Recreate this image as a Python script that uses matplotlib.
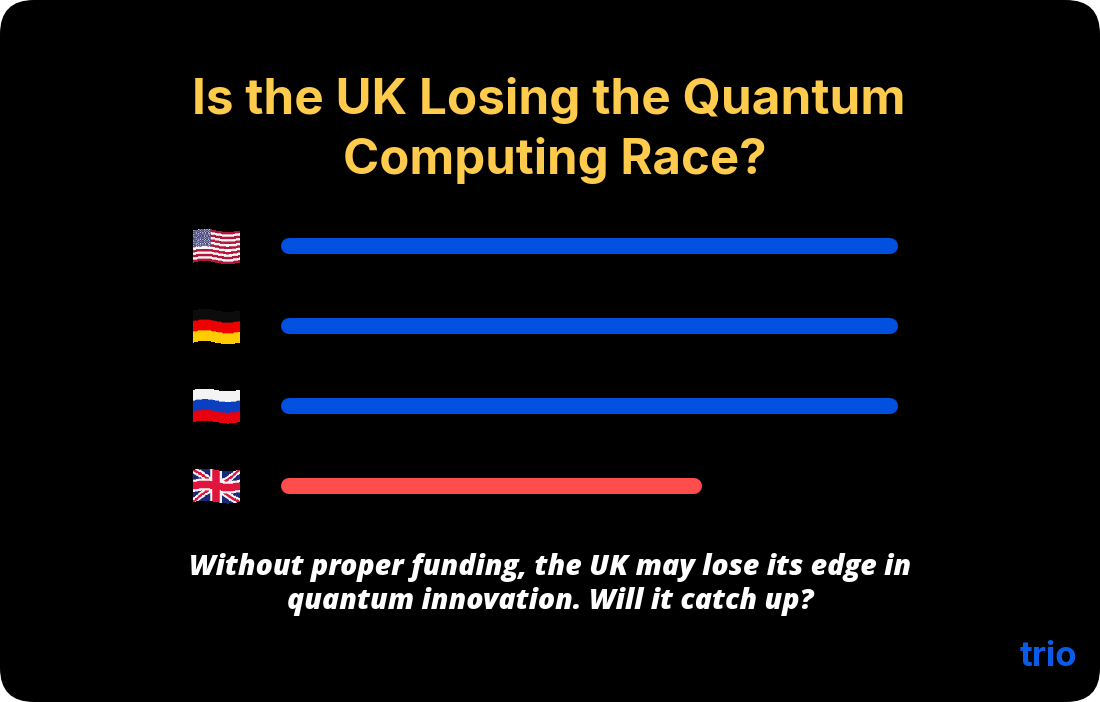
import numpy as np
import matplotlib
matplotlib.use("Agg")
import matplotlib.pyplot as plt
from matplotlib.patches import FancyBboxPatch

countries = ["USA", "Germany", "Russia", "UK"]
values = [100, 100, 100, 67.4]
title_lines = ["Is the UK Losing the Quantum", "Computing Race?"]
note_lines = ["Without proper funding, the UK may lose its edge in",
              "quantum innovation. Will it catch up?"]

W, H = 1100, 702
BLUE = "#0150e0"
RED = "#ff4d4d"
YELLOW = "#ffcb4c"


def to_rgb(c):
    return np.array(matplotlib.colors.to_rgb(c))


def us_flag(u, v):
    img = np.zeros(u.shape + (3,))
    stripe = (v * 13).astype(int) % 2 == 0
    img[stripe] = to_rgb("#b2163a")
    img[~stripe] = to_rgb("#f8f4f4")
    canton = (u < 0.38) & (v < 7 / 13)
    img[canton] = to_rgb("#46467c")
    dots = canton & (np.sin(u * 110) * np.sin(v * 110) > 0.35)
    img[dots] = to_rgb("#e0e0ee")
    return img


def bands(*cols):
    def f(u, v):
        idx = np.minimum((v * len(cols)).astype(int), len(cols) - 1)
        return np.array([to_rgb(c) for c in cols])[idx]
    return f


def uk_flag(u, v):
    img = np.zeros(u.shape + (3,))
    img[:] = to_rgb("#1b2a78")
    d1 = np.abs(v - u)
    d2 = np.abs(v - (1 - u))
    img[(d1 < 0.12) | (d2 < 0.12)] = to_rgb("#f4f4f4")
    img[(d1 < 0.045) | (d2 < 0.045)] = to_rgb("#e0143c")
    img[(np.abs(u - 0.5) < 0.13) | (np.abs(v - 0.5) < 0.19)] = to_rgb("#f4f4f4")
    img[(np.abs(u - 0.5) < 0.08) | (np.abs(v - 0.5) < 0.12)] = to_rgb("#e0143c")
    return img


flag_painters = [us_flag, bands("#0c0c0c", "#ee0000", "#ffcc00"),
                 bands("#f4f4f4", "#0a3fc0", "#e8000f"), uk_flag]
flag_tops = [229, 309, 388.5, 468.5]

fig = plt.figure(figsize=(W / 100, H / 100), dpi=100, facecolor="white")

# page, pixel coords
bg = fig.add_axes([0, 0, 1, 1])
bg.set_xlim(0, W)
bg.set_ylim(H, 0)
bg.axis("off")
bg.add_patch(FancyBboxPatch((0, 0), W, H, boxstyle="round,pad=0,rounding_size=34",
                            facecolor="black", edgecolor="none"))

# waving flags, each cell averaged from a finer raster so stripes stay clean
nx, ny, ss = 60, 44, 8
for paint, top in zip(flag_painters, flag_tops):
    x = np.linspace(193, 239.5, nx + 1)
    v = np.linspace(0, 32, ny + 1)
    X, Y = np.meshgrid(x, v)
    t = (X - 193) / 46.5
    Y = top + Y + 1.5 - 1.5 * np.sin(2 * np.pi * t)
    U, V = np.meshgrid((np.arange(nx * ss) + 0.5) / (nx * ss),
                       (np.arange(ny * ss) + 0.5) / (ny * ss))
    fine = paint(U, V)
    img = fine.reshape(ny, ss, nx, ss, 3).mean(axis=(1, 3))
    bg.pcolormesh(X, Y, img, shading="flat", rasterized=True)

# bars; round caps stick out 8 px either side of the value
ax = fig.add_axes([289 / W, 1 - 525.5 / H, 601 / W, 320 / H])
ax.set_xlim(0, 100)
ax.set_ylim(3.5, -0.5)
ax.patch.set_alpha(0)
ax.axis("off")
ypos = np.arange(len(countries))
colors = [BLUE, BLUE, BLUE, RED]
ax.hlines(ypos, 0, values, colors=colors, linewidth=16 * 72 / 100, capstyle="round",
          clip_on=False)

for line, x, y, size in zip(title_lines, [549, 555], [101, 160], [35.6, 35.3]):
    bg.text(x, y, line, color=YELLOW, fontsize=size, fontweight="bold",
            family="Inter", ha="center", va="center")
for line, y in zip(note_lines, [568, 601]):
    bg.text(W / 2, y, line, color="white", fontsize=20.55, fontweight=800,
            style="italic", family="Open Sans", ha="center", va="center")
bg.text(1048.5, 657, "trio", color="#0a5be8", fontsize=25, fontweight="bold",
        family="Inter", ha="center", va="center")

fig.savefig("out.png", dpi=100, facecolor="white")
